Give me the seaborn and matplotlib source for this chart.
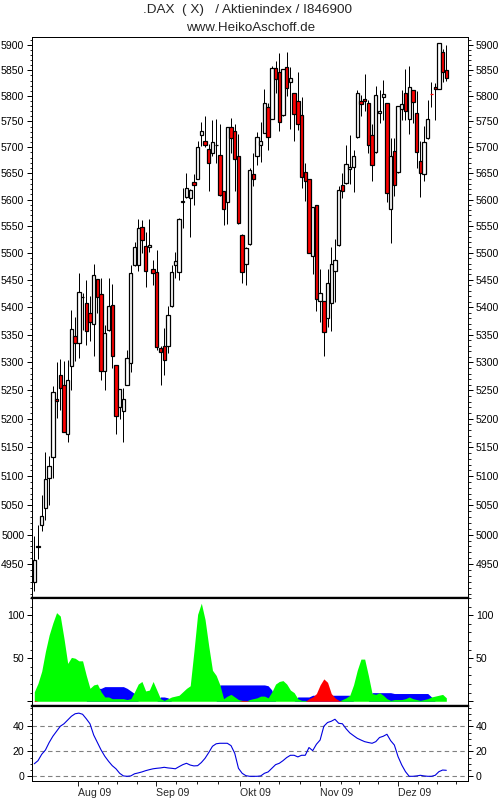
import pandas as pd
import matplotlib
matplotlib.use('Agg')
import matplotlib.pyplot as plt
import seaborn as sns
from matplotlib.ticker import NullFormatter

# candles, one entry per trading day
opens = [4920, 4979, 5016, 5045, 5097, 5133, 5235, 5277, 5260, 5173, 5294, 5348, 5334, 5418, 5408, 5390,
         5369, 5452, 5424, 5284, 5358, 5404, 5296, 5221, 5213, 5260, 5298, 5477, 5477, 5548, 5512, 5510,
         5470, 5464, 5325, 5330, 5329, 5402, 5478, 5465, 5596, 5605, 5603, 5634, 5640, 5724, 5712, 5696,
         5688, 5704, 5685, 5616, 5596, 5740, 5732, 5683, 5534, 5480, 5517, 5648, 5683, 5704, 5727, 5779,
         5755, 5855, 5847, 5763, 5857, 5827, 5805, 5790, 5762, 5653, 5640, 5495, 5590, 5412, 5412, 5380,
         5408, 5466, 5514, 5627, 5632, 5658, 5662, 5720, 5790, 5794, 5785, 5724, 5690, 5766, 5798, 5785,
         5582, 5692, 5653, 5775, 5805, 5755, 5812, 5766, 5673, 5648, 5717, 5803, 5817, 5813, 5886, 5850]
closes = [4957, 4980, 5031, 5095, 5117, 5248, 5232, 5255, 5176, 5269, 5360, 5335, 5427, 5419, 5356, 5373,
          5459, 5418, 5285, 5353, 5402, 5312, 5205, 5252, 5234, 5308, 5463, 5511, 5547, 5523, 5466, 5515,
          5462, 5327, 5319, 5305, 5385, 5465, 5485, 5564, 5597, 5622, 5619, 5628, 5700, 5732, 5705, 5670,
          5710, 5705, 5608, 5583, 5740, 5718, 5677, 5555, 5465, 5509, 5657, 5640, 5719, 5712, 5785, 5719,
          5855, 5833, 5749, 5853, 5815, 5835, 5765, 5744, 5642, 5635, 5500, 5585, 5415, 5425, 5355, 5444,
          5480, 5487, 5619, 5616, 5668, 5662, 5683, 5805, 5783, 5790, 5704, 5666, 5802, 5770, 5804, 5613,
          5683, 5627, 5780, 5783, 5770, 5818, 5788, 5690, 5650, 5710, 5755, 5803, 5813, 5904, 5847, 5836]
highs = [4997, 5017, 5067, 5141, 5134, 5258, 5300, 5306, 5302, 5305, 5395, 5382, 5463, 5425, 5450, 5420,
         5480, 5452, 5454, 5367, 5454, 5442, 5296, 5252, 5254, 5322, 5478, 5520, 5564, 5561, 5538, 5563,
         5487, 5505, 5330, 5362, 5402, 5478, 5502, 5566, 5622, 5650, 5620, 5648, 5712, 5748, 5760, 5706,
         5752, 5754, 5744, 5616, 5740, 5756, 5745, 5725, 5536, 5510, 5660, 5688, 5730, 5748, 5813, 5786,
         5858, 5868, 5885, 5853, 5886, 5857, 5805, 5847, 5798, 5670, 5640, 5585, 5590, 5470, 5412, 5470,
         5510, 5525, 5625, 5650, 5704, 5724, 5695, 5811, 5802, 5842, 5791, 5745, 5820, 5812, 5831, 5785,
         5717, 5717, 5780, 5811, 5853, 5858, 5812, 5809, 5712, 5742, 5792, 5828, 5826, 5904, 5892, 5900]
lows = [4905, 4959, 5007, 5025, 5050, 5097, 5202, 5216, 5176, 5159, 5250, 5302, 5307, 5358, 5332, 5339,
        5311, 5390, 5268, 5250, 5357, 5289, 5173, 5200, 5159, 5259, 5283, 5475, 5466, 5500, 5436, 5502,
        5440, 5322, 5260, 5278, 5316, 5400, 5454, 5450, 5546, 5603, 5530, 5590, 5640, 5702, 5700, 5616,
        5684, 5670, 5607, 5552, 5554, 5688, 5617, 5553, 5444, 5441, 5515, 5625, 5666, 5672, 5727, 5695,
        5754, 5805, 5732, 5761, 5799, 5736, 5712, 5733, 5621, 5597, 5500, 5460, 5393, 5373, 5311, 5364,
        5356, 5410, 5512, 5603, 5630, 5630, 5614, 5718, 5760, 5770, 5688, 5635, 5688, 5746, 5752, 5595,
        5518, 5606, 5650, 5752, 5752, 5726, 5746, 5660, 5605, 5635, 5716, 5778, 5752, 5813, 5827, 5829]
flat_red = [107]

# middle panel
green = [11, 21, 35, 58, 77, 91, 103, 99, 73, 44, 51, 50, 47, 47, 30, 15, 19, 20, 11, 5, 5, 3, 3, 3, 3, 2,
         3, 11, 20, 23, 12, 13, 23, 13, 3, 1, 3, 5, 6, 7, 11, 15, 18, 58, 101, 114, 95, 64, 36, 30, 19, 3,
         6, 8, 5, 2, 1, 0, 2, 3, 4, 6, 6, 4, 11, 20, 23, 24, 20, 13, 10, 3, 1, 1, 0, 0, 0, 0, 0, 0, 0, 0,
         0, 2, 4, 7, 19, 36, 49, 49, 30, 9, 8, 10, 7, 3, 1, 2, 2, 2, 3, 5, 3, 2, 1, 2, 3, 5, 6, 7, 8, 4]
blue = [0, 0, 0, 0, 0, 0, 0, 0, 0, 0, 0, 0, 0, 0, 0, 15, 15, 15, 15, 17, 17, 17, 17, 17, 17, 15,
        12, 9, 0, 0, 0, 0, 0, 0, 5, 5, 4, 0, 0, 0, 0, 0, 0, 0, 0, 0, 0, 0, 0, 0, 19, 19,
        19, 19, 19, 19, 19, 19, 19, 19, 19, 19, 19, 18, 13, 0, 0, 0, 0, 0, 0, 5, 5, 5, 5, 7, 7, 7, 7, 7, 7, 7,
        7, 7, 7, 7, 0, 0, 0, 0, 0, 10, 10, 10, 10, 10, 10, 9, 9, 9, 9, 9, 9, 9, 9, 9, 9, 5, 0, 0, 0, 0]
red = [1, 0, 0, 0, 0, 0, 0, 0, 0, 0, 0, 0, 0, 0, 0, 0, 0, 0, 0, 0, 0, 0, 0, 0, 0, 0,
       0, 0, 0, 0, 0, 0, 0, 0, 0, 0, 0, 0, 0, 0, 0, 0, 0, 0, 0, 0, 0, 0, 0, 0, 0, 0,
       0, 0, 0, 0, 1, 1, 0, 0, 0, 0, 0, 0, 0, 0, 0, 0, 0, 0, 0, 0, 0, 0, 3, 5, 9, 19, 26, 22, 9, 4,
       1, 0, 0, 0, 0, 0, 0, 0, 0, 0, 0, 0, 0, 0, 0, 0, 0, 0, 0, 0, 0, 0, 0, 0, 0, 0, 0, 0, 0, 0]

# bottom panel
line_vals = [10, 12.5, 17.6, 21, 27, 32, 36, 40, 42, 45, 48, 50, 50.5, 49.6, 46, 42, 33, 27, 21, 16, 12, 8.5,
             6, 2.4, 0.3, 0, 0.3, 2, 2.7, 3.5, 4.5, 5.3, 6, 6.4, 6.7, 7.2, 6.7, 6.4, 6, 7.7, 9.3, 10.4, 9,
             8.3, 8.5, 11, 14.4, 19, 24, 26, 26.4, 26.4, 26.4, 24.5, 18.4, 6.4, 2.4, 0.5, 0, 0, 0, 0.3, 2.4,
             3.5, 6.4, 9.3, 10.4, 12.5, 15, 16.8, 16.8, 15.5, 16.8, 16.8, 23, 20.5, 25.6, 29, 40, 43, 44,
             45.6, 42.4, 42, 38, 34.7, 32.5, 30.4, 29, 27.7, 27, 26.4, 27.7, 31, 32, 33.6, 28.5, 25, 15.7,
             9, 3.7, 0, 0, 0.3, 0.8, 0.3, 0, 0, 0.8, 3.7, 5, 4.8]

month_ticks = [11.9, 32.9, 55.4, 77.1, 98]
month_labels = ['Aug 09', 'Sep 09', 'Okt 09', 'Nov 09', 'Dez 09']
week_ticks = [17.2, 22.4, 27.6, 38.3, 43.9, 49.6, 60.4, 66, 71.6, 82.5, 87.5, 92.7, 103.4, 108.6, 113.7]

price_major = list(range(4950, 5901, 50))
price_minor = list(range(4900, 5911, 10))

sns.set_style('ticks')
plt.rcParams['font.family'] = ['Liberation Sans', 'DejaVu Sans']

W, H = 500, 800
PX = 0.72
fig = plt.figure(figsize=(5, 8), dpi=100)


def panel(top, bottom):
    return fig.add_axes([32 / W, 1 - bottom / H, (468 - 32) / W, (bottom - top) / H])


ax1 = panel(37, 598)
ax2 = panel(598, 706)
ax3 = panel(706, 781)
xs = list(range(len(opens)))

# candles, later days sit on top of earlier ones
for i in xs:
    o, c = opens[i], closes[i]
    face = 'white' if c >= o else 'red'
    edge = 'red' if i in flat_red else 'black'
    ax1.vlines(i, lows[i], highs[i], color='black', lw=1.0 * PX, zorder=2 + i * 0.01)
    ax1.bar(i, abs(c - o), bottom=min(o, c), width=0.9, facecolor=face, edgecolor=edge,
            lw=1.25 * PX, zorder=2 + i * 0.01 + 0.001)
ax1.set_yscale('log')
ax1.set_ylim(4894, 5916.5)
ax1.set_yticks(price_major)
ax1.set_yticklabels([str(v) for v in price_major])
ax1.set_yticks(price_minor, minor=True)
ax1.yaxis.set_minor_formatter(NullFormatter())

# filled mountains, blue at the back
ax2.fill_between(xs, 0, blue, color='#0000ff', lw=0, antialiased=False, zorder=2)
ax2.fill_between(xs, 0, green, color='#00ff00', lw=0, antialiased=False, zorder=3)
ax2.fill_between(xs, 0, red, color='#ff0000', lw=0, antialiased=False, zorder=4)
ax2.set_ylim(-5.5, 120)
ax2.set_yticks([0, 50, 100])
ax2.set_yticklabels(['', '50', '100'])
ax2.set_yticks(range(0, 121, 10), minor=True)

df_line = pd.DataFrame({'day': xs, 'value': line_vals})
sns.lineplot(data=df_line, x='day', y='value', ax=ax3, color='#0000e0', lw=0.8, zorder=3)
for v in [0, 20, 40]:
    ax3.axhline(v, color='#808080', lw=0.8, dashes=(4, 3), zorder=1)
ax3.set_ylim(-3.76, 56.2)
ax3.set_yticks([0, 20, 40])
ax3.set_yticks(range(0, 56, 5), minor=True)
ax3.set_xlabel('')
ax3.set_ylabel('')

for ax in (ax1, ax2, ax3):
    ax.set_xlim(-0.62, 116.84)
    ax.tick_params(axis='y', which='major', left=True, right=True, labelleft=True, labelright=True,
                   length=3.6, width=PX, pad=2, labelsize=7.6, colors='black')
    ax.tick_params(axis='y', which='minor', left=True, right=True, length=1.8, width=PX)
    for s in ax.spines.values():
        s.set_linewidth(PX)
        s.set_color('black')

for ax in (ax1, ax2):
    ax.set_xticks([])
for ax in (ax2, ax3):
    ax.spines['top'].set_linewidth(1.6)
    ax.spines['top'].set_zorder(10)
ax1.spines['bottom'].set_linewidth(1.6)
ax2.spines['bottom'].set_linewidth(1.6)

ax3.set_xticks(month_ticks)
ax3.set_xticklabels(month_labels, ha='left')
ax3.set_xticks(week_ticks, minor=True)
ax3.tick_params(axis='x', which='major', length=3.6, width=PX, pad=1.5, labelsize=7.6)
ax3.tick_params(axis='x', which='minor', bottom=True, length=2.4, width=PX)

fig.text(247.5 / W, 1 - 10 / H, '.DAX  ( X)   / Aktienindex / I846900', ha='center', va='center', fontsize=9.7)
fig.text(250.5 / W, 1 - 28 / H, 'www.HeikoAschoff.de', ha='center', va='center', fontsize=9.6)

fig.savefig('out.png', dpi=100)
